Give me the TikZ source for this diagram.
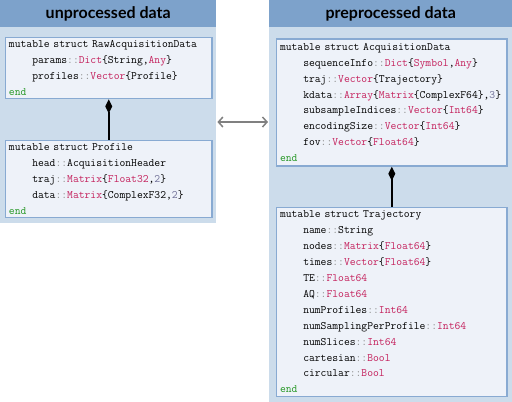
\documentclass[tikz,border=0pt]{standalone}
\usepackage{fontspec}
\newfontfamily\headfont{Lato}
\usetikzlibrary{arrows.meta}
\definecolor{headblue}{RGB}{125,162,203}
\definecolor{panelblue}{RGB}{204,220,235}
\definecolor{boxfill}{RGB}{238,242,249}
\definecolor{boxline}{RGB}{136,170,210}
\definecolor{typecol}{RGB}{196,32,92}
\definecolor{sepcol}{RGB}{140,140,140}
\definecolor{numcol}{RGB}{110,110,150}
\definecolor{endcol}{RGB}{34,150,34}
\newcommand{\ty}[1]{\textcolor{typecol}{#1}}
\newcommand{\dc}{\textcolor{sepcol}{::}}
\newcommand{\nm}[1]{\textcolor{numcol}{#1}}
\newcommand{\kwend}{\textcolor{endcol}{end}}
\newcommand{\ind}{\hphantom{xxxx}}
\newcommand{\codefont}{\ttfamily\fontsize{11.3}{15.9}\selectfont}
\tikzset{
  panel/.style={fill=panelblue, inner sep=0pt, anchor=north west},
  head/.style={fill=headblue, inner sep=0pt, anchor=north west, minimum height=27pt,
    font=\headfont\bfseries\fontsize{16}{18}\selectfont},
  structbox/.style={draw=boxline, line width=1.5pt, fill=boxfill, anchor=north west,
    inner xsep=3.5pt, inner ysep=0pt, align=left, text=black, font=\codefont},
  owns/.style={{Diamond[length=14pt,width=7pt]}-, line width=1.5pt},
  swap/.style={{Straight Barb[length=4.5pt,width=10pt]}-{Straight Barb[length=4.5pt,width=10pt]},
    gray, line width=1.5pt, shorten <=1pt, shorten >=1pt}
}
\begin{document}
\begin{tikzpicture}[x=1pt,y=1pt]
\useasboundingbox (0,0) rectangle (512,-402);

% unprocessed data
\node[panel, minimum width=216pt, minimum height=223pt] (leftpanel) at (0,0) {};
\node[head, minimum width=216pt] (lefthead) at (0,0) {unprocessed data};
\node[structbox, minimum width=206.5pt, text width=199.5pt, minimum height=61pt] (raw) at (4.75,-36.75) {%
mutable struct RawAcquisitionData\\
\ind params\dc\ty{Dict}\{String,\ty{Any}\}\\
\ind profiles\dc\ty{Vector}\{Profile\}\\
\kwend};
\node[structbox, minimum width=206.5pt, text width=199.5pt, minimum height=77pt] (profile) at (4.75,-139.75) {%
mutable struct Profile\\
\ind head\dc AcquisitionHeader\\
\ind traj\dc\ty{Matrix}\{\ty{Float32},\nm{2}\}\\
\ind data\dc\ty{Matrix}\{ComplexF32,\nm{2}\}\\
\kwend};
\draw[owns] (raw.south) -- (profile.north);

% preprocessed data
\node[panel, minimum width=243pt, minimum height=402pt] (rightpanel) at (269,0) {};
\node[head, minimum width=243pt] (righthead) at (269,0) {preprocessed data};
\node[structbox, minimum width=230.5pt, text width=223.5pt, minimum height=127pt] (acq) at (275.75,-38.25) {%
mutable struct AcquisitionData\\
\ind sequenceInfo\dc\ty{Dict}\{\ty{Symbol},\ty{Any}\}\\
\ind traj\dc\ty{Vector}\{Trajectory\}\\
\ind kdata\dc\ty{Array}\{\ty{Matrix}\{ComplexF64\},\nm{3}\}\\
\ind subsampleIndices\dc\ty{Vector}\{\ty{Int64}\}\\
\ind encodingSize\dc\ty{Vector}\{\ty{Int64}\}\\
\ind fov\dc\ty{Vector}\{\ty{Float64}\}\\
\kwend};
\node[structbox, minimum width=230.5pt, text width=223.5pt, minimum height=189pt] (traj) at (275.75,-206.75) {%
mutable struct Trajectory\\
\ind name\dc String\\
\ind nodes\dc\ty{Matrix}\{\ty{Float64}\}\\
\ind times\dc\ty{Vector}\{\ty{Float64}\}\\
\ind TE\dc\ty{Float64}\\
\ind AQ\dc\ty{Float64}\\
\ind numProfiles\dc\ty{Int64}\\
\ind numSamplingPerProfile\dc\ty{Int64}\\
\ind numSlices\dc\ty{Int64}\\
\ind cartesian\dc\ty{Bool}\\
\ind circular\dc\ty{Bool}\\
\kwend};
\draw[owns] (acq.south) -- (traj.north);

% conversion
\coordinate (swapy) at (0,-122);
\draw[swap] (leftpanel.east |- swapy) -- (rightpanel.west |- swapy);
\end{tikzpicture}
\end{document}
